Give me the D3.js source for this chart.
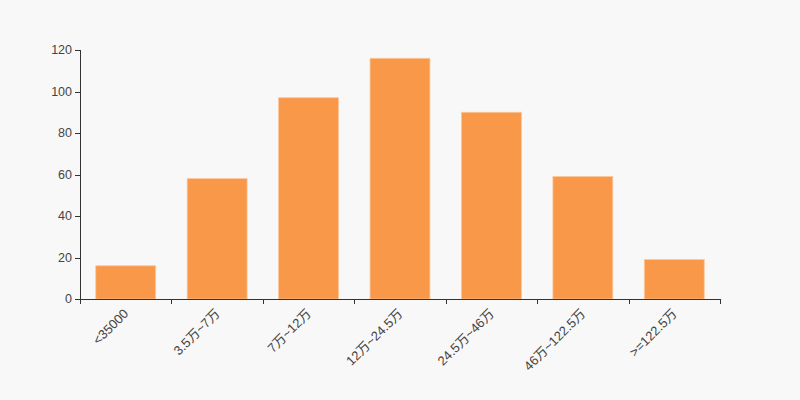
<!DOCTYPE html>
<html><head><meta charset="utf-8">
<script src="https://cdn.jsdelivr.net/npm/d3@7"></script>
<style>body{margin:0;background:#f8f8f8;}svg{display:block;}</style>
</head><body><svg id="c" width="800" height="400"></svg>
<script>
const categories = ["<35000","3.5万~7万","7万~12万","12万~24.5万","24.5万~46万","46万~122.5万",">=122.5万"];
const values = [16, 58, 97, 116, 90, 59, 19];
const yTicks = [0, 20, 40, 60, 80, 100, 120];

const svg = d3.select("#c");
const m = {l: 80, r: 80, t: 50, b: 101};
const W = 800, H = 400;
svg.append("rect").attr("width", W).attr("height", H).attr("fill", "#f8f8f8");
const x = d3.scaleBand().domain(categories).range([m.l, W - m.r]).paddingInner(0).paddingOuter(0);
const y = d3.scaleLinear().domain([0, 120]).range([H - m.b, m.t]);
const font = "'Liberation Sans', Arial, 'Noto Sans CJK SC', sans-serif";

const bw = x.bandwidth() * 0.655;
svg.append("g").selectAll("rect").data(values).join("rect")
  .attr("x", (d, i) => x(categories[i]) + (x.bandwidth() - bw) / 2)
  .attr("y", d => y(d))
  .attr("width", bw)
  .attr("height", d => y(0) - y(d))
  .attr("fill", "#f99848")
  .attr("stroke", "#fbc69a").attr("stroke-width", 0.8);

// y axis
const ya = svg.append("g").attr("transform", `translate(${m.l},0)`);
ya.append("line").attr("x1", 0.5).attr("x2", 0.5).attr("y1", y(120)).attr("y2", y(0)).attr("stroke", "#333");
ya.selectAll("line.t").data(yTicks).join("line").attr("class", "t")
  .attr("x1", -5).attr("x2", 0).attr("y1", d => Math.round(y(d)) + 0.5).attr("y2", d => Math.round(y(d)) + 0.5).attr("stroke", "#333");
ya.selectAll("text").data(yTicks).join("text")
  .attr("x", -8).attr("y", d => y(d)).attr("dy", "0.35em").attr("text-anchor", "end")
  .attr("font-family", font).attr("font-size", 12.5).attr("fill", "#444").text(d => d);

// x axis
const xa = svg.append("g").attr("transform", `translate(0,${y(0)})`);
xa.append("line").attr("x1", m.l).attr("x2", W - m.r).attr("y1", 0.5).attr("y2", 0.5).attr("stroke", "#333");
const bounds = categories.map(c => x(c)).concat([W - m.r]);
xa.selectAll("line.t").data(bounds).join("line").attr("class", "t")
  .attr("x1", d => Math.round(d) + 0.5).attr("x2", d => Math.round(d) + 0.5).attr("y1", 0).attr("y2", 5).attr("stroke", "#333");
xa.selectAll("text").data(categories).join("text")
  .attr("transform", d => `translate(${x(d) + x.bandwidth() / 2 - 3},${9}) rotate(-45)`)
  .attr("text-anchor", "end").attr("dy", "0.7em")
  .attr("font-family", font).attr("font-size", 13).attr("fill", "#444").text(d => d);
</script></body></html>
